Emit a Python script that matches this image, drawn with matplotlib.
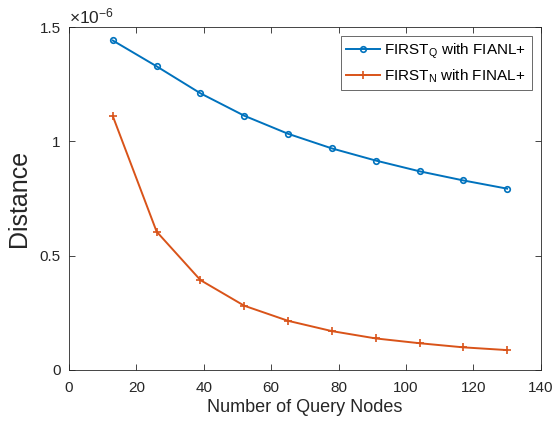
import matplotlib
matplotlib.use("Agg")
import matplotlib.pyplot as plt
from matplotlib.ticker import FuncFormatter

plt.rcParams["font.family"] = ["Liberation Sans", "DejaVu Sans"]
plt.rcParams["mathtext.fontset"] = "custom"
plt.rcParams["mathtext.rm"] = "Liberation Sans"
plt.rcParams["mathtext.it"] = "Liberation Sans:italic"

# data (distance in units of 1e-6)
query_nodes = [13, 26, 39, 52, 65, 78, 91, 104, 117, 130]
first_q = [1.441, 1.328, 1.210, 1.112, 1.033, 0.969, 0.916, 0.869, 0.829, 0.793]
first_n = [1.110, 0.605, 0.393, 0.281, 0.215, 0.170, 0.138, 0.117, 0.099, 0.087]
x_ticks = [0, 20, 40, 60, 80, 100, 120, 140]
y_ticks = [0, 0.5, 1, 1.5]

BLUE = "#0072BD"
ORANGE = "#D95319"
AXIS = "#262626"

fig = plt.figure(figsize=(5.53, 4.26), dpi=100)
ax = fig.add_axes([0.1248, 0.1315, 0.8532, 0.8051])

ax.plot(query_nodes, first_q, color=BLUE, lw=1.4, marker="o", ms=4,
        mfc="none", mew=1.2, label=r"FIRST$_\mathrm{Q}$ with FIANL+")
ax.plot(query_nodes, first_n, color=ORANGE, lw=1.4, marker="+", ms=6,
        mew=1.2, label=r"FIRST$_\mathrm{N}$ with FINAL+")

ax.set_xlim(0, 140)
ax.set_ylim(0, 1.5)
ax.set_xticks(x_ticks)
ax.set_yticks(y_ticks)
ax.yaxis.set_major_formatter(FuncFormatter(lambda v, p: f"{v:g}"))

ax.tick_params(direction="in", length=4, width=0.6, colors=AXIS,
               labelsize=11, top=True, right=True, pad=6)
ax.tick_params(axis="x", pad=8)
for s in ax.spines.values():
    s.set_color(AXIS)
    s.set_linewidth(0.6)

ax.set_xlabel("Number of Query Nodes", fontsize=13, color=AXIS, labelpad=3)
ax.set_ylabel("Distance", fontsize=18, color=AXIS, labelpad=6)
ax.text(0.0, 1.003, r"$\times10^{-6}$", transform=ax.transAxes,
        fontsize=12.5, color=AXIS, ha="left", va="bottom")

leg = ax.legend(loc="upper right", fontsize=11, frameon=True, fancybox=False,
                edgecolor=AXIS, handlelength=2.2, borderaxespad=0.6,
                labelspacing=0.45, handletextpad=0.3, borderpad=0.35)
leg.get_frame().set_linewidth(0.6)

fig.savefig("out.png", dpi=100)
